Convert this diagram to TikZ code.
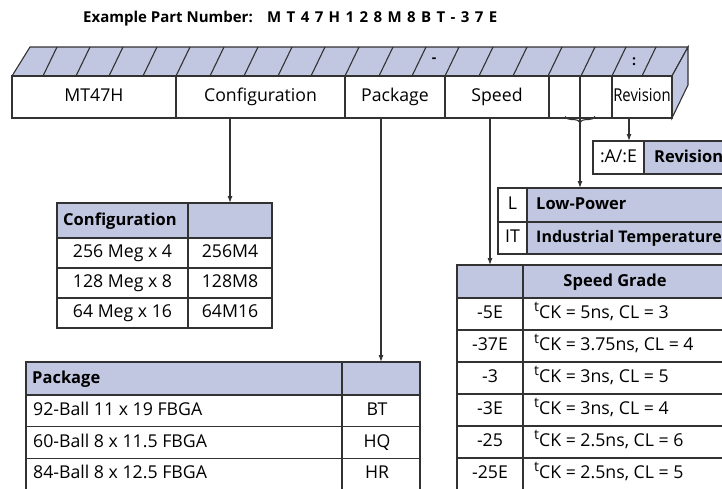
\documentclass[tikz,border=0pt]{standalone}
\usepackage{fontspec}
\setmainfont{Open Sans}
\usetikzlibrary{decorations.pathreplacing,arrows.meta}
\definecolor{lav}{RGB}{194,199,225}
\definecolor{ln}{RGB}{50,50,50}
\newcommand\myfs{\fontsize{17.7}{20}\selectfont}
\newcommand\mybfs{\fontsize{16.5}{20}\selectfont\bfseries}
\newcommand\tck{\raisebox{0.42em}{\fontsize{14}{14}\selectfont t}CK}
\newcommand\trk[1]{#1\kern5.4pt}
\begin{document}
\begin{tikzpicture}[x=1pt,y=-1pt,
  cell/.style={draw=ln, line width=1.1pt, anchor=north west, inner sep=0pt, outer sep=0pt,
    font=\myfs, text height=12.5pt, text depth=3.5pt},
  hcell/.style={cell, fill=lav},
  txt/.style={inner sep=0pt, font=\myfs, text height=12.5pt, text depth=3.5pt},
  btxt/.style={txt, font=\mybfs},
  arr/.style={draw=ln, line width=1.1pt, -{Latex[length=7pt,width=5pt]}},
  edge/.style={draw=ln, line width=1.1pt},
  brace/.style={draw=ln, line width=1.1pt, decorate, decoration={brace, mirror, amplitude=6pt}}]
\useasboundingbox (0,0) rectangle (722,488);
\begin{scope}
\clip (0,0) rectangle (722,488);

% title
\node[inner sep=0pt, anchor=base west, font=\fontsize{15}{18}\selectfont\bfseries] (t1) at (83,22) {Example Part Number:};
\node[inner sep=0pt, anchor=base west, font=\fontsize{15}{18}\selectfont\bfseries] (t2) at (267,22)
  {\trk M\trk T\trk 4\trk 7\trk H\trk 1\trk 2\trk 8\trk M\trk 8\trk B\trk T\trk -\trk 3\trk 7E};

% top and side faces of the block
\path[edge, fill=lav] (12,76) -- (30,47) -- (688,47) -- (672,76) -- cycle;
\path[edge, fill=lav] (672,76) -- (688,47) -- (688,85) -- (672,118) -- cycle;
\foreach \b in {43,76,109,143,176,210,244,278,311,345,379,412,445,479,513,548,581,612,642}
  \draw[edge] (\b,76) -- (\b+14,47);
\node[inner sep=0pt, font=\fontsize{14}{14}\selectfont\bfseries] (dash) at (434,60) {-};
\node[inner sep=0pt, font=\fontsize{14}{14}\selectfont\bfseries] (colon) at (634,62) {:};

% front face cells
\node[cell, minimum width=164, minimum height=42] (mt) at (12,76) {MT47H};
\node[cell, minimum width=169, minimum height=42] (cfg) at (176,76) {Configuration};
\node[cell, minimum width=100, minimum height=42] (pkg) at (345,76) {Package};
\node[cell, minimum width=104, minimum height=42] (spd) at (445,76) {Speed};
\node[cell, minimum width=31, minimum height=42] (b1) at (549,76) {};
\node[cell, minimum width=32, minimum height=42] (b2) at (580,76) {};
\node[cell, minimum width=60, minimum height=42] (rev) at (612,76) {\scalebox{0.84}[1]{Revision}};

% revision box
\node[cell, minimum width=51, minimum height=33] (revA) at (593,141) {:A/:E};
\node[hcell, minimum width=100, minimum height=33] (revB) at (644,141) {};
\node[btxt, anchor=west] (revBt) at ([xshift=10pt]revB.west) {Revision};

% low power / temperature
\node[cell, minimum width=29, minimum height=34] (lL) at (498,188) {L};
\node[hcell, minimum width=220, minimum height=34] (lp) at (527,188) {};
\node[btxt, anchor=west] (lpt) at ([xshift=9pt]lp.west) {Low-Power};
\node[cell, minimum width=29, minimum height=32] (lIT) at (498,222) {IT};
\node[hcell, minimum width=220, minimum height=32] (it) at (527,222) {};
\node[btxt, anchor=west, font=\fontsize{16}{20}\selectfont\bfseries] (itt) at ([xshift=9pt]it.west) {Industrial Temperature};

% configuration table
\node[hcell, minimum width=131, minimum height=35] (ch1) at (57,203) {};
\node[btxt, anchor=west] (ch1t) at ([xshift=6pt]ch1.west) {Configuration};
\node[hcell, minimum width=84, minimum height=35] (ch2) at (188,203) {};
\node[cell, minimum width=131, minimum height=30] (c11) at (57,238) {256 Meg x 4};
\node[cell, minimum width=84, minimum height=30] (c12) at (188,238) {256M4};
\node[cell, minimum width=131, minimum height=30] (c21) at (57,268) {128 Meg x 8};
\node[cell, minimum width=84, minimum height=30] (c22) at (188,268) {128M8};
\node[cell, minimum width=131, minimum height=30] (c31) at (57,298) {64 Meg x 16};
\node[cell, minimum width=84, minimum height=30] (c32) at (188,298) {64M16};

% package table
\node[hcell, minimum width=316, minimum height=33] (ph1) at (26,362) {};
\node[btxt, anchor=west] (ph1t) at ([xshift=6pt]ph1.west) {Package};
\node[hcell, minimum width=78, minimum height=33] (ph2) at (342,362) {};
\foreach \n/\y/\a/\b in {p1/395/92-Ball 11 x 19 FBGA/BT, p2/426.7/60-Ball 8 x 11.5 FBGA/HQ, p3/458.3/84-Ball 8 x 12.5 FBGA/HR}{
  \node[cell, minimum width=316, minimum height=31.7] (\n a) at (26,\y) {};
  \node[txt, anchor=west] (\n at) at ([xshift=7pt]\n a.west) {\a};
  \node[cell, minimum width=78, minimum height=31.7] (\n b) at (342,\y) {};
  \node[txt] (\n bt) at ([xshift=-4pt]\n b.center) {\b};
}

% speed table
\node[hcell, minimum width=66, minimum height=33] (sh1) at (457,265) {};
\node[hcell, minimum width=240, minimum height=33] (sh2) at (523,265) {};
\node[btxt] (sh2t) at (615,281.5) {Speed Grade};
\foreach \n/\y/\a/\b in {s1/298/-5E/{\tck{} = 5ns, CL = 3}, s2/330/-37E/{\tck{} = 3.75ns, CL = 4},
  s3/362/-3/{\tck{} = 3ns, CL = 5}, s4/394/-3E/{\tck{} = 3ns, CL = 4},
  s5/426/-25/{\tck{} = 2.5ns, CL = 6}, s6/458/-25E/{\tck{} = 2.5ns, CL = 5}}{
  \node[cell, minimum width=66, minimum height=32] (\n a) at (457,\y) {\a};
  \node[cell, minimum width=240, minimum height=32] (\n b) at (523,\y) {};
  \node[txt, anchor=west] (\n bt) at ([xshift=11pt]\n b.west) {\b};
}

% connectors
\draw[arr] (cfg.south -| ch2.north) -- (ch2.north);
\draw[arr] (pkg.south -| ph2.north) -- (ph2.north);
\draw[arr] (spd.south -| sh1.north) -- (sh1.north);
\coordinate (ra) at ([xshift=-13pt]rev.south);
\draw[arr] (ra) -- (ra |- revA.north);
\coordinate (bl) at ([xshift=16pt,yshift=1.5pt]b1.south west);
\coordinate (br) at ([xshift=-17pt,yshift=1.5pt]b2.south east);
\draw[brace] (bl) -- (br);
\coordinate (btip) at ([yshift=8pt]b1.south east);
\draw[arr] (btip) -- (btip |- lp.north);
\end{scope}
\end{tikzpicture}
\end{document}
